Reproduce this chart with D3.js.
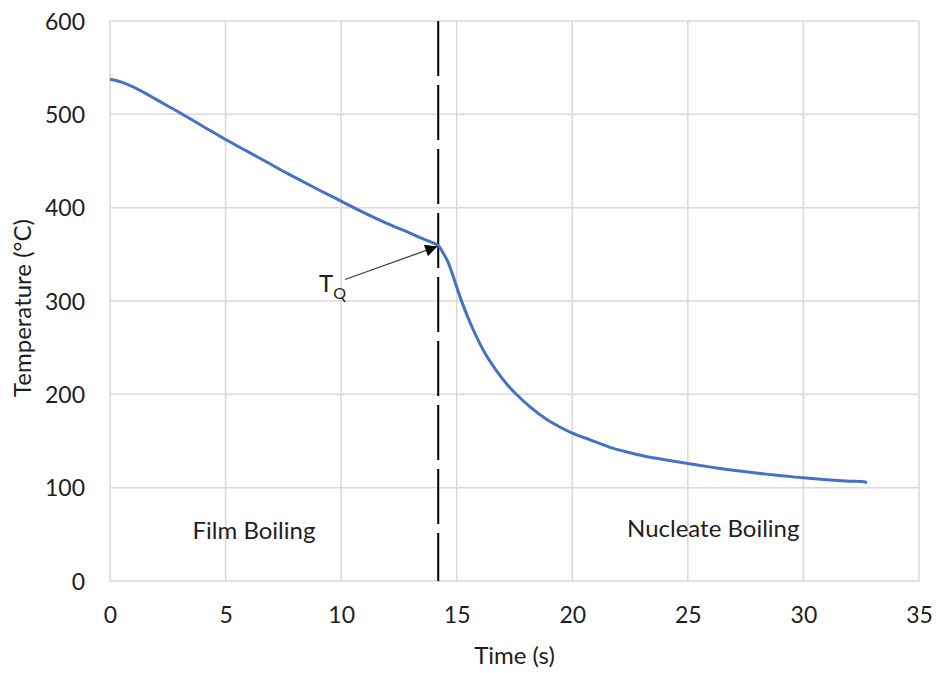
<!DOCTYPE html>
<html>
<head>
<meta charset="utf-8">
<script src="https://cdn.jsdelivr.net/npm/d3@7"></script>
<style>
  html, body { margin: 0; padding: 0; background: #fff; }
  text { font-family: Lato, "Open Sans", sans-serif; }
</style>
</head>
<body>
<svg id="chart" width="937" height="673"></svg>
<script>
// ---- data ----
const timeS = [0, 0.5, 1, 1.5, 2, 2.5, 3, 4, 5, 6, 7, 7.5, 8, 9, 10, 11, 12, 13, 13.5, 14, 14.2,
  14.4, 14.6, 14.8, 15.0, 15.3, 15.7, 16.2, 16.7, 17.2, 17.5, 18.2, 18.9, 19.5, 20, 20.8, 21.6,
  22.4, 23.1, 24, 25, 26, 26.7, 27.5, 28.4, 29.2, 30, 31, 32, 32.5, 32.75];
const temperatureC = [537.5, 534.5, 529.5, 523, 516, 509, 502, 487.5, 473, 459.5, 446, 439, 432.5, 419.5, 407, 394.5, 383, 372.5, 367, 362, 359.5,
  352, 343, 330, 315, 294, 270, 245, 226, 210, 202, 186, 173, 164.5, 158.5, 151, 143.5,
  138, 134, 130, 126, 122, 119.5, 117, 114.5, 112.5, 110.5, 108.5, 107, 106.5, 105.5];
const xTicks = [0, 5, 10, 15, 20, 25, 30, 35];
const yTicks = [0, 100, 200, 300, 400, 500, 600];
const quenchTime = 14.2;
const quenchTemp = 359.5;
const xTitle = "Time (s)";
const yTitle = "Temperature (°C)";
const regionLabels = ["Film Boiling", "Nucleate Boiling"];
const regionLabelX = [6.23, 26.1];
const regionLabelY = [54, 56];

// ---- layout ----
const svg = d3.select("#chart");
const pL = 110, pR = 919, pT = 21, pB = 581;
const x = d3.scaleLinear().domain([0, 35]).range([pL, pR]);
const y = d3.scaleLinear().domain([0, 600]).range([pB, pT]);
const textColor = "#1e1e1e";
const gridColor = "#d9d9d9";
const fs = 24;

// gridlines
svg.append("g").selectAll("line").data(xTicks).join("line")
  .attr("x1", d => x(d)).attr("x2", d => x(d)).attr("y1", pT).attr("y2", pB)
  .attr("stroke", gridColor).attr("stroke-width", 1.5);
svg.append("g").selectAll("line").data(yTicks).join("line")
  .attr("x1", pL).attr("x2", pR).attr("y1", d => y(d)).attr("y2", d => y(d))
  .attr("stroke", gridColor).attr("stroke-width", 1.5);

// axes (labels only)
const xAxis = svg.append("g").attr("transform", `translate(0,${pB})`)
  .call(d3.axisBottom(x).tickValues(xTicks).tickSize(0).tickPadding(26).tickFormat(d3.format("d")));
const yAxis = svg.append("g").attr("transform", `translate(${pL},0)`)
  .call(d3.axisLeft(y).tickValues(yTicks).tickSize(0).tickPadding(25).tickFormat(d3.format("d")));
[xAxis, yAxis].forEach(a => {
  a.select(".domain").remove();
  a.selectAll("text").attr("font-size", 23).attr("fill", textColor).attr("font-family", "Lato, sans-serif");
});
yAxis.selectAll("text").attr("dy", "0.36em");

// axis titles
svg.append("text").attr("x", (pL + pR) / 2).attr("y", 664)
  .attr("text-anchor", "middle").attr("font-size", fs).attr("fill", textColor).text(xTitle);
svg.append("text").attr("transform", `translate(31,${(pT + pB) / 2 + 7}) rotate(-90)`)
  .attr("text-anchor", "middle").attr("font-size", fs).attr("fill", textColor).text(yTitle);

// quench dashed line
svg.append("line")
  .attr("x1", x(quenchTime)).attr("x2", x(quenchTime)).attr("y1", pT).attr("y2", pB)
  .attr("stroke", "#000").attr("stroke-width", 2).attr("stroke-dasharray", "55,9");

// curve
const pts = timeS.map((t, i) => [t, temperatureC[i]]);
svg.append("path").datum(pts)
  .attr("fill", "none").attr("stroke", "#4472C4").attr("stroke-width", 3).attr("stroke-linejoin", "round")
  .attr("d", d3.line().x(d => x(d[0])).y(d => y(d[1])).curve(d3.curveCatmullRom.alpha(0.5)));

// arrow annotation
svg.append("defs").append("marker").attr("id", "ah").attr("viewBox", "0 0 10 10")
  .attr("refX", 10).attr("refY", 5)
  .attr("markerUnits", "userSpaceOnUse").attr("orient", "auto")
  .attr("markerWidth", 14).attr("markerHeight", 12)
  .append("path").attr("d", "M0,0 L10,5 L0,10 Z").attr("fill", "#000");
svg.append("line").attr("x1", 345).attr("y1", 279.5)
  .attr("x2", x(quenchTime) - 1).attr("y2", y(quenchTemp) + 1)
  .attr("stroke", "#404040").attr("stroke-width", 1.3).attr("marker-end", "url(#ah)");
const tq = svg.append("text").attr("x", 319).attr("y", 292).attr("font-size", fs).attr("fill", textColor);
tq.append("tspan").text("T");
tq.append("tspan").attr("font-size", 16).attr("dy", 7).text("Q");

// region labels
regionLabels.forEach((s, i) => {
  svg.append("text").attr("x", x(regionLabelX[i])).attr("y", y(regionLabelY[i]))
    .attr("text-anchor", "middle").attr("dy", "0.35em").attr("font-size", fs).attr("fill", textColor).text(s);
});
</script>
</body>
</html>
